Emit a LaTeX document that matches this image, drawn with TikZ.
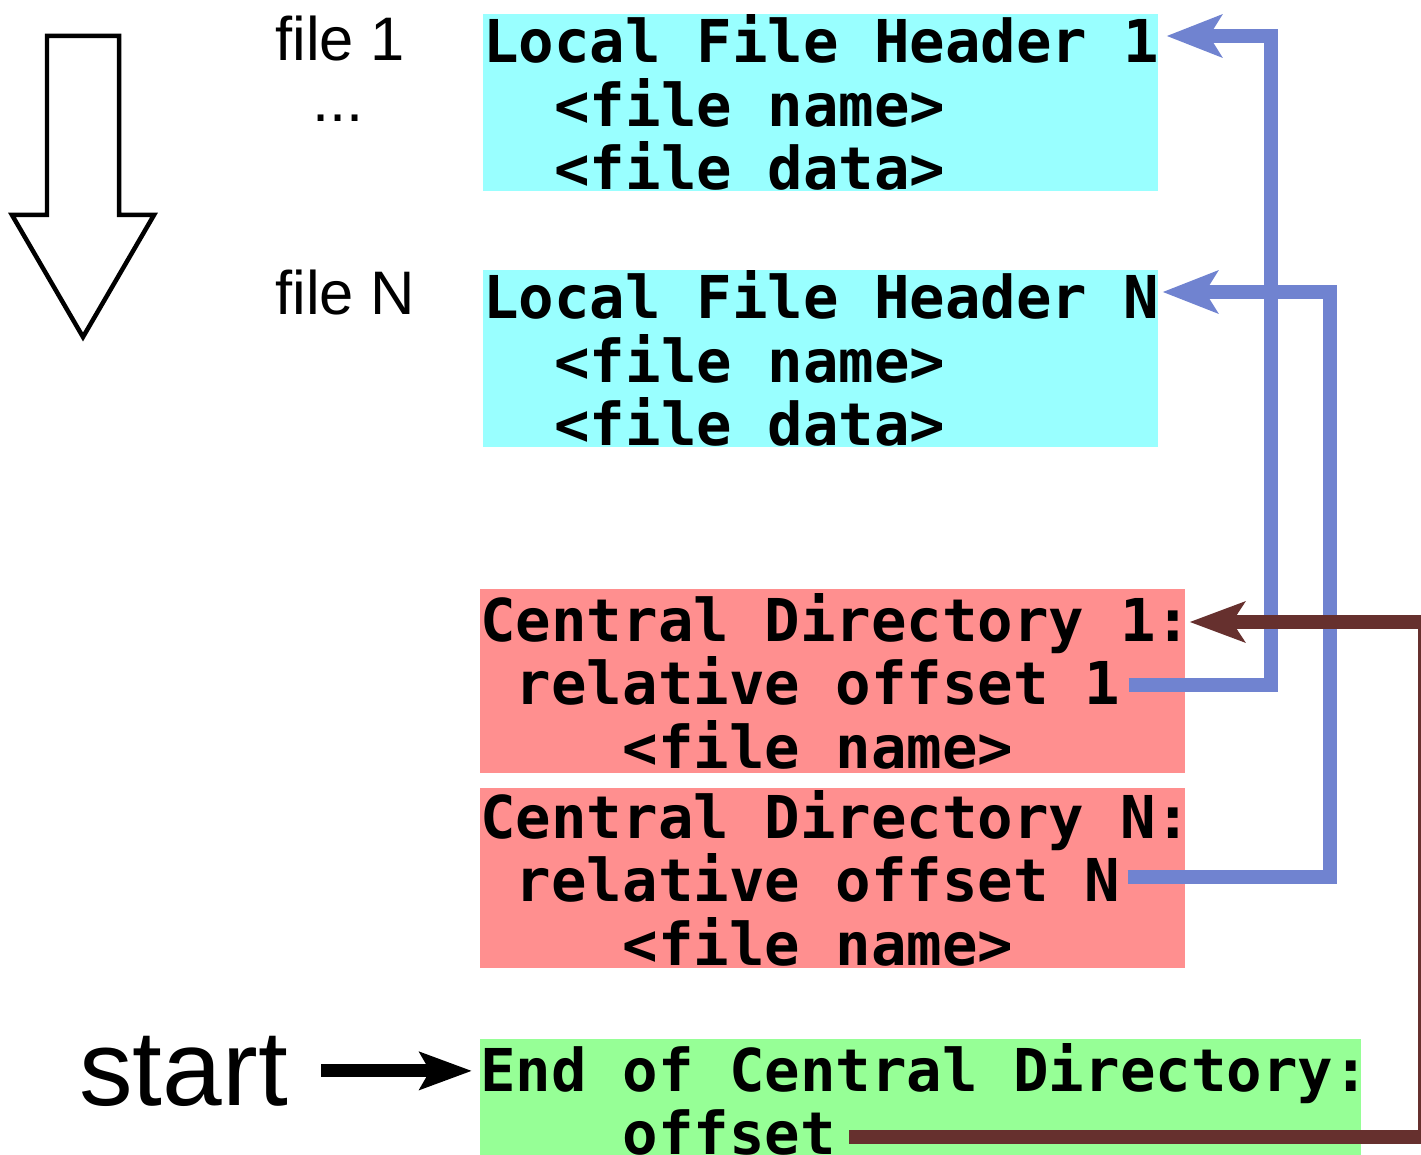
\documentclass[tikz,border=0pt]{standalone}
\usepackage{fontspec}
\setmainfont{Liberation Sans}
\setmonofont{DejaVu Sans Mono}
\usepackage{tikz}
\usetikzlibrary{arrows.meta,calc}

\definecolor{hdrcyan}{RGB}{153,255,255}
\definecolor{cdirred}{RGB}{255,143,143}
\definecolor{eocdgreen}{RGB}{150,255,150}
\definecolor{linkblue}{RGB}{112,131,208}
\definecolor{linkbrown}{RGB}{102,48,46}

% full-width spaces in the record font (align=left shrinks them)
\newcommand{\fixedspaces}{%
  \spaceskip=\fontcharwd\font`x\relax
  \xspaceskip=\fontcharwd\font`x\relax}

\tikzset{
  record box/.style={
    anchor=north west,
    inner sep=0pt,
    align=left,
    font=\ttfamily\bfseries\fontsize{33.6}{36.3}\selectfont,
    execute at begin node=\fixedspaces
  },
  header box/.style={
    record box,
    fill=hdrcyan,
    text width=13.5cm,
    minimum height=3.53cm
  },
  central box/.style={
    record box,
    fill=cdirred,
    text width=14.1cm
  },
  end box/.style={
    record box,
    fill=eocdgreen,
    text width=17.62cm,
    minimum height=2.4cm
  },
  file label/.style={
    anchor=base west,
    inner sep=0pt,
    font=\fontsize{35}{42}\selectfont
  },
  offset link/.style={
    draw=linkblue,
    line width=0.28cm,
    -{Stealth[length=1.1cm,width=0.84cm,inset=0.25cm]}
  },
  back link/.style={
    draw=linkbrown,
    line width=0.27cm,
    -{Stealth[length=1.1cm,width=0.8cm,inset=0.25cm]}
  },
  start link/.style={
    draw=black,
    line width=0.26cm,
    shorten >=0.16cm,
    -{Stealth[length=1.04cm,width=0.74cm,inset=0.2cm]}
  }
}

\newcommand{\ind}[1]{\phantom{#1}}

\begin{document}
\begin{tikzpicture}[x=0.02cm, y=-0.02cm]
\useasboundingbox (0,0) rectangle (1421,1155);

% reading direction
\draw[line width=0.09cm] (47,36) -- (119,36) -- (119,215) -- (154,215)
  -- (83,337) -- (12,215) -- (47,215) -- cycle;

\node[file label] (file1) at (275,61) {file 1};
\node[file label, anchor=base] (fdots) at (338,122) {...};
\node[file label] (fileN) at (275,315) {file N};
\node[file label, font=\fontsize{61}{70}\selectfont] (start) at (79,1105) {start};

\node[header box] (hdr1) at (483,14)
  {\mbox{Local File Header 1}\\\ind{xx}<file name>\\\ind{xx}<file data>};
\node[header box] (hdrN) at (483,270)
  {\mbox{Local File Header N}\\\ind{xx}<file name>\\\ind{xx}<file data>};

\node[central box, minimum height=3.68cm] (cdir1) at (480,589)
  {\mbox{Central Directory 1:}\\\ind{x}relative offset 1\\\ind{xxxx}<file name>};
\node[central box, minimum height=3.6cm] (cdirN) at (480,788)
  {\mbox{Central Directory N:}\\\ind{x}relative offset N\\\ind{xxxx}<file name>};

\node[end box] (eocd) at (480,1039)
  {\mbox{End of Central Directory:}\\\ind{xxxx}offset};

\draw[start link] ([xshift=0.66cm]start.east) -- (start.east -| eocd.west);

\draw[offset link] ($(cdir1.north east)+(-57,96)$) -| ($(hdr1.north east)+(112,22)$)
  -- ($(hdr1.north east)+(8,22)$);
\draw[offset link] ($(cdirN.north east)+(-58,89)$) -| ($(hdrN.north east)+(171,22)$)
  -- ($(hdrN.north east)+(4,22)$);

\draw[back link] ($(eocd.north west)+(369,98)$) -| ($(cdir1.north east)+(239,33)$)
  -- ($(cdir1.north east)+(4,33)$);
\end{tikzpicture}
\end{document}
